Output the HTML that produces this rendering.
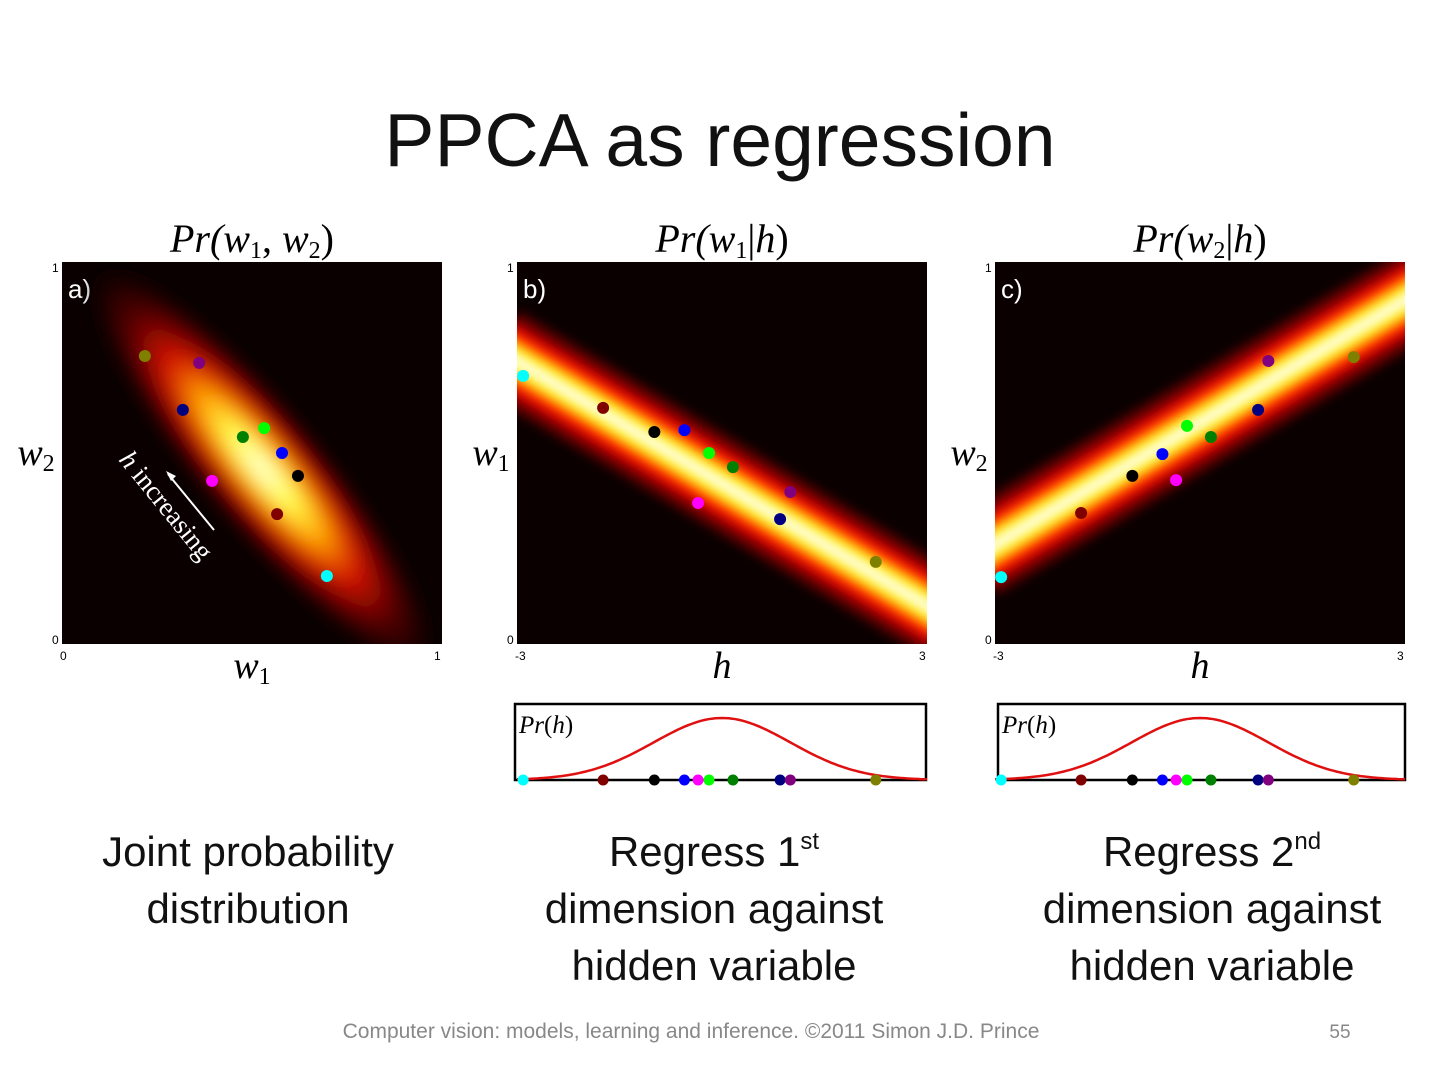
<!DOCTYPE html>
<html><head><meta charset="utf-8"><style>
body{margin:0;width:1440px;height:1080px;background:#fff;overflow:hidden;font-family:"Liberation Sans",sans-serif}
svg{position:absolute;left:0;top:0}
</style></head><body>
<svg width="1440" height="1080">
<defs>
<filter id="blur" x="-20%" y="-20%" width="140%" height="140%"><feGaussianBlur stdDeviation="5"/></filter>
<filter id="blurE" x="-30%" y="-30%" width="160%" height="160%"><feGaussianBlur stdDeviation="9"/></filter>
<clipPath id="ca"><rect x="62" y="262" width="380" height="382"/></clipPath>
<clipPath id="cb"><rect x="517" y="262" width="410" height="382"/></clipPath>
<clipPath id="cc"><rect x="995" y="262" width="410" height="382"/></clipPath>
<radialGradient id="hot" cx="0.5" cy="0.5" r="0.5">
<stop offset="0" stop-color="#fff"/><stop offset="0.2" stop-color="#ffff50"/><stop offset="0.38" stop-color="#ffa000"/><stop offset="0.58" stop-color="#d01000"/><stop offset="0.8" stop-color="#500000"/><stop offset="1" stop-color="#0a0000"/>
</radialGradient>
</defs>
<text x="720" y="166" font-size="75" text-anchor="middle" font-family="Liberation Sans, sans-serif" fill="#111">PPCA as regression</text>
<g id="g" font-family="Liberation Serif, serif" font-style="italic"></g>
<text font-size="42" text-anchor="middle" fill="#111"><tspan x="248" y="866">Joint probability</tspan><tspan x="248" y="923">distribution</tspan></text>
<text font-size="42" text-anchor="middle" fill="#111"><tspan x="714" y="866">Regress 1<tspan font-size="24" dy="-17">st</tspan></tspan><tspan x="714" y="923">dimension against</tspan><tspan x="714" y="980">hidden variable</tspan></text>
<text font-size="42" text-anchor="middle" fill="#111"><tspan x="1212" y="866">Regress 2<tspan font-size="24" dy="-17">nd</tspan></tspan><tspan x="1212" y="923">dimension against</tspan><tspan x="1212" y="980">hidden variable</tspan></text>
<text x="691" y="1038" font-size="21" text-anchor="middle" fill="#888">Computer vision: models, learning and inference.  ©2011 Simon J.D. Prince</text>
<text x="1340" y="1038" font-size="19" text-anchor="middle" fill="#888">55</text>
</svg>
<script>
const colors=['#00ffff','#800000','#000000','#0000ff','#ff00ff','#00ff00','#008000','#000080','#800080','#808000'];
const names=['cyan','darkred','black','blue','magenta','lime','green','navy','purple','olive'];
const hVals=[-2.91,-1.74,-0.99,-0.55,-0.35,-0.19,0.16,0.85,1.0,2.25];
const w1Vals=[0.697,0.566,0.621,0.579,0.395,0.532,0.476,0.318,0.361,0.218];
const w2Vals=[0.178,0.340,0.440,0.500,0.427,0.565,0.542,0.613,0.736,0.754];
const w1bVals=[0.702,0.618,0.555,0.560,0.369,0.500,0.463,0.327,0.398,0.215];
const w2cVals=[0.175,0.343,0.440,0.497,0.429,0.571,0.542,0.613,0.741,0.751];
const bandB=[0.74,0.10];
const bandC=[0.26,0.90];
const NS='http://www.w3.org/2000/svg';
const g=document.getElementById('g');
function el(t,a,p){const e=document.createElementNS(NS,t);for(const k in a)e.setAttribute(k,a[k]);(p||g).appendChild(e);return e;}
function txt(x,y,s,size,extra,name){const e=el('text',Object.assign({x:x,y:y,'font-size':size},extra||{}));e.textContent=s;


return e;}
const Y0=644,H=382;
const yS=v=>Y0-v*H;
const sans={'font-family':'Liberation Sans, sans-serif','font-style':'normal'};
function panel(x0,w,label,key,tl,tr,xlab,ylab,title){
 const r=el('rect',{x:x0,y:262,width:w,height:H,fill:'#0a0000'});
 
 
 txt(x0+6,298,label,26,Object.assign({fill:'#fff'},sans),'panel-label-'+key);
 txt(x0-10,272,'1',12,Object.assign({fill:'#000'},sans),'y-tick-max-'+key);
 txt(x0-10,644,'0',12,Object.assign({fill:'#000'},sans),'y-tick-min-'+key);
 txt(x0-2,660,tl,12,Object.assign({fill:'#000'},sans),'x-tick-min-'+key);
 txt(x0+w-8,660,tr,12,Object.assign({fill:'#000'},sans),'x-tick-max-'+key);
 txt(x0+w/2,678,xlab[0],38,{'text-anchor':'middle'},'x-axis-title-'+key).innerHTML=xlab[0]+(xlab[1]?'<tspan font-size="24" dy="6" font-style="normal">'+xlab[1]+'</tspan>':'');
 txt(x0-26,465,ylab[0],38,{'text-anchor':'middle'},'y-axis-title-'+key).innerHTML=ylab[0]+'<tspan font-size="24" dy="6" font-style="normal">'+ylab[1]+'</tspan>';
 const t=txt(x0+w/2,252,'',40,{'text-anchor':'middle'},'panel-title-'+key);t.innerHTML=title;
}
panel(62,380,'a)','a','0','1',['w','1'],['w','2'],'Pr(w<tspan font-size="24" dy="6" font-style="normal">1</tspan><tspan dy="-6" font-style="normal">, </tspan>w<tspan font-size="24" dy="6" font-style="normal">2</tspan><tspan dy="-6" font-style="normal">)</tspan>');
panel(517,410,'b)','b','-3','3',['h',''],['w','1'],'Pr(w<tspan font-size="24" dy="6" font-style="normal">1</tspan><tspan dy="-6" font-style="normal">|</tspan>h<tspan font-style="normal">)</tspan>');
panel(995,410,'c)','c','-3','3',['h',''],['w','2'],'Pr(w<tspan font-size="24" dy="6" font-style="normal">2</tspan><tspan dy="-6" font-style="normal">|</tspan>h<tspan font-style="normal">)</tspan>');
const ga=el('g',{'clip-path':'url(#ca)'});
const ell=el('ellipse',{cx:262,cy:468,rx:250,ry:58,fill:'url(#hot)',transform:'rotate(50 262 468)',filter:'url(#blurE)'},ga);


const ar=el('line',{x1:214,y1:530,x2:168,y2:474,stroke:'#fff','stroke-width':2});


el('polygon',{points:'166,471 176,476 171,481',fill:'#fff'});
const ht=txt(0,0,'',27,{fill:'#fff',transform:'translate(118,460) rotate(51)'},'h-increasing-label');ht.innerHTML='h <tspan font-style="normal">increasing</tspan>';
function band(x0,w,clip,b,key){
 const gb=el('g',{'clip-path':'url(#'+clip+')'});
 const x1=x0-20,x2=x0+w+20;
 const slope=(b[1]-b[0])/w;
 const ya=yS(b[0]-slope*20),yb=yS(b[1]+slope*20);
 [[90,'#500000'],[70,'#b00000'],[52,'#ff2000'],[38,'#ff8800'],[26,'#ffee20'],[12,'#ffffe0']].forEach((s,i)=>{
  const l=el('line',{x1:x1,y1:ya,x2:x2,y2:yb,stroke:s[1],'stroke-width':s[0],filter:'url(#blur)'},gb);
  
  
 });
}
band(517,410,'cb',bandB,'b');
band(995,410,'cc',bandC,'c');
const xa=v=>62+v*380, xh0=v=>517+(v+3)/6*410, xh1=v=>995+(v+3)/6*410;
for(let i=0;i<colors.length;i++){
 const a=el('circle',{cx:xa(w1Vals[i]),cy:yS(w2Vals[i]),r:6,fill:colors[i]});
 
 
 const b=el('circle',{cx:xh0(hVals[i]),cy:yS(w1bVals[i]),r:6,fill:colors[i]});
 
 
 const c=el('circle',{cx:xh1(hVals[i]),cy:yS(w2cVals[i]),r:6,fill:colors[i]});
 
 
}
function prior(x0,w,xh,key){
 const r=el('rect',{x:x0,y:704,width:w,height:76,fill:'#fff',stroke:'#000','stroke-width':2.5});
 
 
 let d='';
 for(let k=0;k<=120;k++){const h=-3+6*k/120;const y=780-62*Math.exp(-h*h/2);d+=(k?'L':'M')+xh(h).toFixed(1)+','+y.toFixed(1);}
 const p=el('path',{d:d,fill:'none',stroke:'#e01010','stroke-width':2.5});
 
 
 const t=txt(x0+4,733,'',25,{},'prior-label-'+key);t.innerHTML='Pr<tspan font-style="normal">(</tspan>h<tspan font-style="normal">)</tspan>';
 for(let i=0;i<colors.length;i++){
  const c=el('circle',{cx:xh(hVals[i]),cy:780,r:5.5,fill:colors[i]});
  
  
 }
}
prior(515,411,xh0,'b');
prior(998,407,xh1,'c');
</script>
</body></html>
